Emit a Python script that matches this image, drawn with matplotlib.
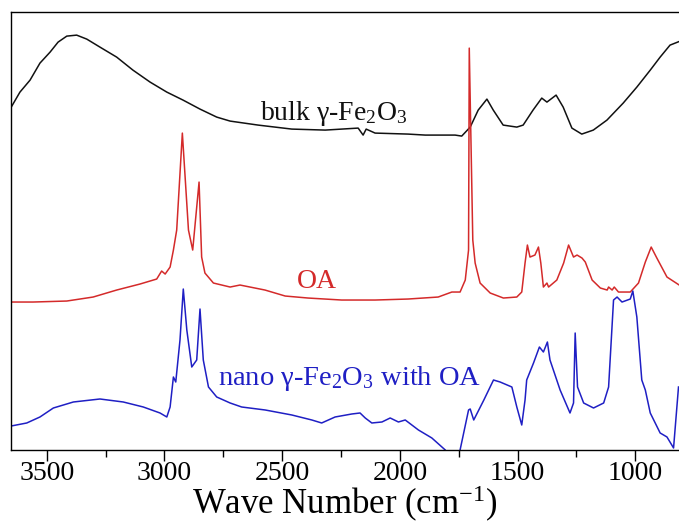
import matplotlib
matplotlib.use("Agg")
import matplotlib.pyplot as plt
from matplotlib.ticker import MultipleLocator

plt.rcParams["font.family"] = ["Liberation Serif", "DejaVu Serif"]
plt.rcParams["mathtext.fontset"] = "custom"
plt.rcParams["mathtext.rm"] = "Liberation Serif"
plt.rcParams["mathtext.it"] = "Liberation Serif:italic"
plt.rcParams["mathtext.bf"] = "Liberation Serif:bold"

# FTIR transmittance (arbitrary units, curves offset vertically)
bulk_wn = [3651, 3614, 3571, 3529, 3486, 3452, 3415, 3373, 3330, 3274, 3203, 3134,
           3061, 2990, 2921, 2849, 2778, 2721, 2602, 2459, 2317, 2177, 2156, 2143,
           2105, 1965, 1892, 1765, 1737, 1701, 1667, 1630, 1603, 1561, 1503, 1476,
           1434, 1397, 1375, 1336, 1306, 1269, 1227, 1178, 1120, 1051, 993, 936,
           894, 852, 809]
bulk_t = [343, 358, 370, 387, 398, 408, 414, 415, 411, 403, 393, 380,
          368, 358, 350, 341, 333, 329, 325, 321, 320, 322, 315, 321,
          317, 316, 315, 315, 314, 323, 340, 351, 340, 325, 323, 325,
          340, 352, 348, 355, 343, 322, 316, 320, 330, 347, 363, 380,
          393, 405, 409]

oa_wn = [3651, 3558, 3415, 3303, 3203, 3104, 3033, 3012, 2997, 2976, 2962, 2948,
         2924, 2898, 2880, 2853, 2842, 2828, 2792, 2721, 2679, 2573, 2487, 2390,
         2247, 2105, 1965, 1837, 1779, 1744, 1722, 1708, 1705, 1690, 1680, 1659,
         1616, 1560, 1503, 1482, 1468, 1458, 1447, 1426, 1411, 1401, 1390, 1375,
         1368, 1333, 1304, 1283, 1262, 1247, 1226, 1212, 1183, 1148, 1119, 1113,
         1098, 1089, 1071, 1021, 986, 957, 932, 908, 865, 813]
oa_t = [148, 148, 149, 153, 160, 166, 171, 179, 176, 183, 200, 220,
        317, 220, 200, 268, 193, 177, 167, 163, 165, 160, 154, 152,
        150, 150, 151, 153, 158, 158, 170, 200, 402, 210, 187, 167,
        157, 152, 153, 158, 187, 205, 193, 195, 203, 187, 163, 167,
        163, 170, 187, 205, 193, 195, 192, 188, 170, 162, 160, 163,
        160, 163, 158, 158, 167, 188, 203, 192, 173, 165]

nano_wn = [3651, 3585, 3529, 3472, 3387, 3274, 3175, 3090, 3019, 2990, 2976, 2962,
           2952, 2934, 2920, 2905, 2884, 2863, 2849, 2835, 2813, 2778, 2721, 2672,
           2572, 2459, 2374, 2332, 2275, 2204, 2169, 2147, 2119, 2076, 2041, 2006,
           1977, 1921, 1864, 1807, 1775, 1744, 1708, 1701, 1686, 1643, 1602, 1574,
           1524, 1503, 1482, 1468, 1461, 1432, 1407, 1390, 1373, 1362, 1319, 1277,
           1262, 1255, 1245, 1219, 1177, 1134, 1113, 1092, 1077, 1056, 1021, 1010,
           993, 972, 957, 936, 894, 865, 837, 816]
nano_t = [24, 27, 33, 42, 48, 51, 48, 43, 37, 33, 43, 73,
          68, 110, 161, 120, 83, 90, 141, 90, 63, 53, 47, 43,
          40, 35, 30, 27, 33, 36, 37, 32, 27, 28, 32, 28,
          30, 20, 12, 0, -15, 0, 40, 41, 30, 50, 70, 68,
          63, 43, 25, 50, 70, 87, 103, 98, 108, 90, 60, 37,
          47, 117, 63, 47, 42, 47, 63, 150, 153, 148, 151, 159,
          133, 70, 60, 37, 17, 13, 2, 63]

tick_values = [3500, 3000, 2500, 2000, 1500, 1000]
x_label = "Wave Number (cm$^{-1}$)"
label_bulk = "bulk γ-Fe$_2$O$_3$"
label_oa = "OA"
label_nano = "nano γ-Fe$_2$O$_3$ with OA"

c_black = "#111111"
c_red = "#d42a2a"
c_blue = "#1f1fc4"

fig = plt.figure(figsize=(6.79, 5.25), dpi=100)
ax = fig.add_axes([0.0162, 0.1429, 0.99, 0.834])

ax.plot(bulk_wn, bulk_t, color=c_black, lw=1.1)
ax.plot(oa_wn, oa_t, color=c_red, lw=1.1)
ax.plot(nano_wn, nano_t, color=c_blue, lw=1.1)

ax.set_xlim(3652, 796)
ax.set_ylim(0, 438)

ax.text(2594, 330, label_bulk, color=c_black, fontsize=20, ha="left", va="baseline")
ax.text(2436, 162, label_oa, color=c_red, fontsize=20, ha="left", va="baseline")
ax.text(2772, 65, label_nano, color=c_blue, fontsize=20.5, ha="left", va="baseline")

ax.set_xticks(tick_values)
ax.xaxis.set_minor_locator(MultipleLocator(250))
ax.tick_params(axis="x", which="major", direction="out", length=8, width=1.0,
               labelsize=20, pad=0)
ax.tick_params(axis="x", which="minor", direction="out", length=5, width=1.0)
ax.set_yticks([])
ax.spines["right"].set_visible(False)
for s in ("left", "top", "bottom"):
    ax.spines[s].set_linewidth(1.0)

# axis title placed just above the bottom edge of the figure
fig.text(0.508, 1.0 / 525, x_label, fontsize=25, ha="center", va="bottom")

fig.savefig("out.png", dpi=100)
